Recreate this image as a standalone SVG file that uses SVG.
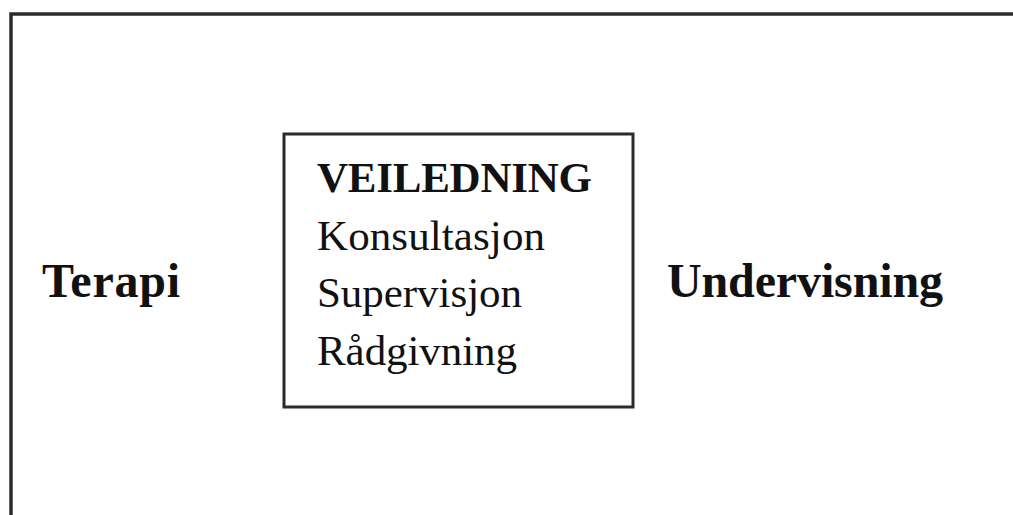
<svg xmlns="http://www.w3.org/2000/svg" width="1013" height="515" viewBox="0 0 1013 515">
<style>
.frame{fill:none;stroke:#2b2b2b;stroke-width:3.5}
.box{fill:#fff;stroke:#2b2b2b;stroke-width:3}
.t{font-family:"Liberation Serif","Times New Roman",serif;fill:#111}
.b{font-weight:bold}
.big{font-size:48px}
.mid{font-size:43px}
</style>
<rect width="1013" height="515" fill="#fff"/>
<path class="frame" d="M11 515 V14 H1013"/>
<g id="veiledning">
<rect class="box" x="284" y="134" width="349" height="273"/>
<text class="t b mid" x="317" y="192" textLength="275">VEILEDNING</text>
<text class="t mid" x="317" y="250" textLength="228">Konsultasjon</text>
<text class="t mid" x="317" y="307" textLength="205">Supervisjon</text>
<text class="t mid" x="317" y="365" textLength="200">Rådgivning</text>
</g>
<g id="terapi"><text class="t b big" x="42" y="297" textLength="138">Terapi</text></g>
<g id="undervisning"><text class="t b big" x="667" y="297" textLength="276">Undervisning</text></g>
<g id="connectors"></g>
</svg>
